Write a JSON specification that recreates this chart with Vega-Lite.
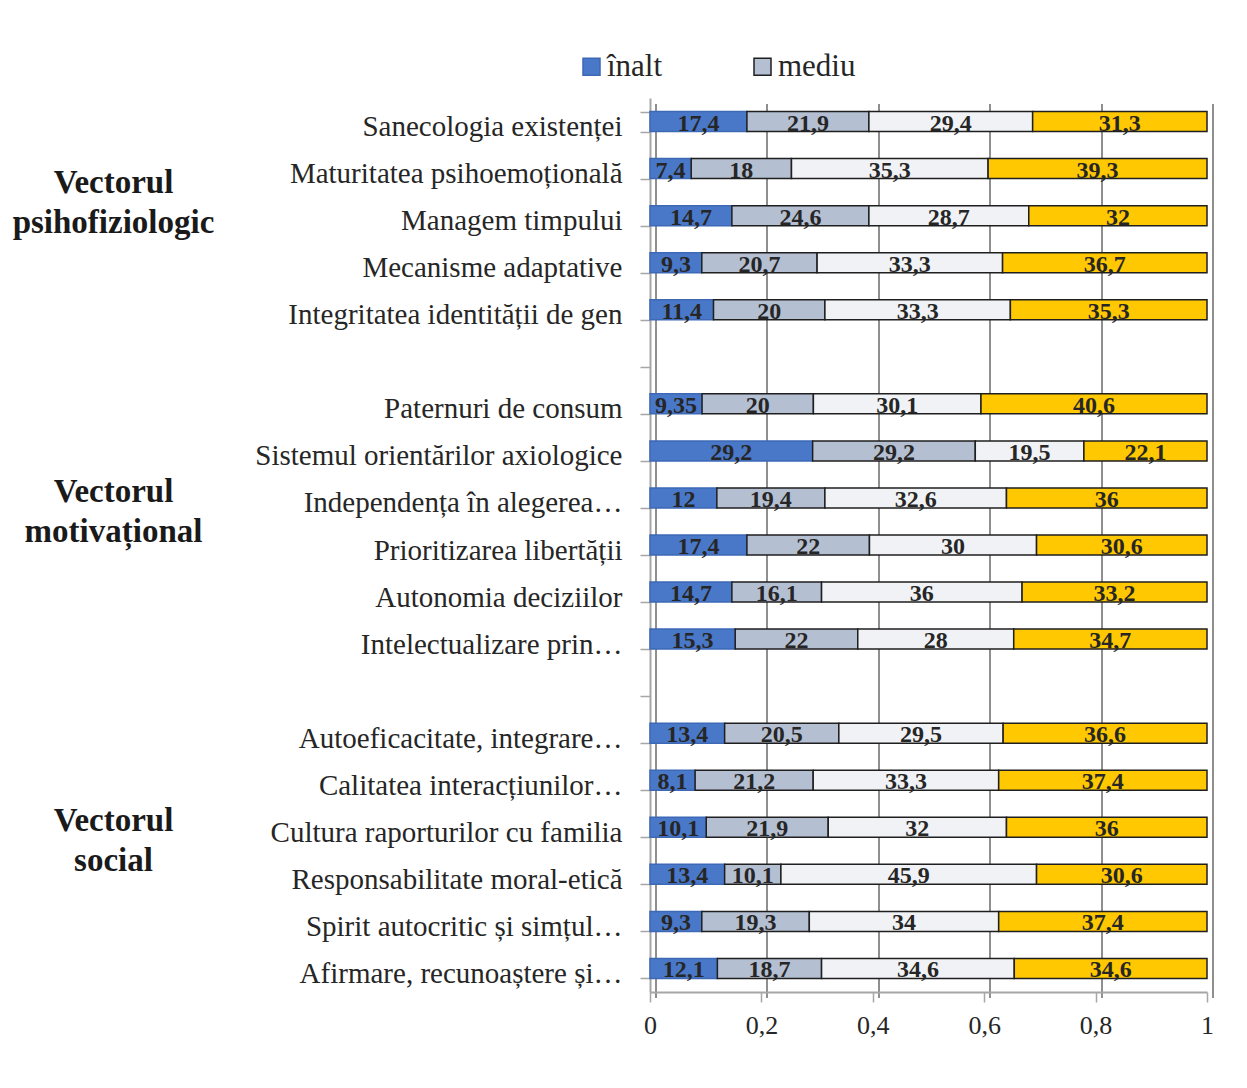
{
  "$schema": "https://vega.github.io/schema/vega-lite/v6.json",
  "width": 557,
  "height": 894,
  "autosize": {"type": "none"},
  "padding": {"left": 650, "top": 98, "right": 40, "bottom": 96},
  "background": "white",
  "config": {
    "locale": {"number": {"decimal": ",", "thousands": ".", "grouping": [3], "currency": ["", " lei"]}},
    "view": {"stroke": null},
    "font": "Liberation Serif"
  },
  "data": {
    "values": [
      {"cat": "Sanecologia existenței", "lvl": "înalt", "k": 1, "v": 17.4},
      {"cat": "Sanecologia existenței", "lvl": "mediu", "k": 2, "v": 21.9},
      {"cat": "Sanecologia existenței", "lvl": "scăzut", "k": 3, "v": 29.4},
      {"cat": "Sanecologia existenței", "lvl": "foarte scăzut", "k": 4, "v": 31.3},
      {"cat": "Maturitatea psihoemoțională", "lvl": "înalt", "k": 1, "v": 7.4},
      {"cat": "Maturitatea psihoemoțională", "lvl": "mediu", "k": 2, "v": 18},
      {"cat": "Maturitatea psihoemoțională", "lvl": "scăzut", "k": 3, "v": 35.3},
      {"cat": "Maturitatea psihoemoțională", "lvl": "foarte scăzut", "k": 4, "v": 39.3},
      {"cat": "Managem timpului", "lvl": "înalt", "k": 1, "v": 14.7},
      {"cat": "Managem timpului", "lvl": "mediu", "k": 2, "v": 24.6},
      {"cat": "Managem timpului", "lvl": "scăzut", "k": 3, "v": 28.7},
      {"cat": "Managem timpului", "lvl": "foarte scăzut", "k": 4, "v": 32},
      {"cat": "Mecanisme adaptative", "lvl": "înalt", "k": 1, "v": 9.3},
      {"cat": "Mecanisme adaptative", "lvl": "mediu", "k": 2, "v": 20.7},
      {"cat": "Mecanisme adaptative", "lvl": "scăzut", "k": 3, "v": 33.3},
      {"cat": "Mecanisme adaptative", "lvl": "foarte scăzut", "k": 4, "v": 36.7},
      {"cat": "Integritatea identității de gen", "lvl": "înalt", "k": 1, "v": 11.4},
      {"cat": "Integritatea identității de gen", "lvl": "mediu", "k": 2, "v": 20},
      {"cat": "Integritatea identității de gen", "lvl": "scăzut", "k": 3, "v": 33.3},
      {"cat": "Integritatea identității de gen", "lvl": "foarte scăzut", "k": 4, "v": 35.3},
      {"cat": "Paternuri de consum", "lvl": "înalt", "k": 1, "v": 9.35},
      {"cat": "Paternuri de consum", "lvl": "mediu", "k": 2, "v": 20},
      {"cat": "Paternuri de consum", "lvl": "scăzut", "k": 3, "v": 30.1},
      {"cat": "Paternuri de consum", "lvl": "foarte scăzut", "k": 4, "v": 40.6},
      {"cat": "Sistemul orientărilor axiologice", "lvl": "înalt", "k": 1, "v": 29.2},
      {"cat": "Sistemul orientărilor axiologice", "lvl": "mediu", "k": 2, "v": 29.2},
      {"cat": "Sistemul orientărilor axiologice", "lvl": "scăzut", "k": 3, "v": 19.5},
      {"cat": "Sistemul orientărilor axiologice", "lvl": "foarte scăzut", "k": 4, "v": 22.1},
      {"cat": "Independența în alegerea…", "lvl": "înalt", "k": 1, "v": 12},
      {"cat": "Independența în alegerea…", "lvl": "mediu", "k": 2, "v": 19.4},
      {"cat": "Independența în alegerea…", "lvl": "scăzut", "k": 3, "v": 32.6},
      {"cat": "Independența în alegerea…", "lvl": "foarte scăzut", "k": 4, "v": 36},
      {"cat": "Prioritizarea libertății", "lvl": "înalt", "k": 1, "v": 17.4},
      {"cat": "Prioritizarea libertății", "lvl": "mediu", "k": 2, "v": 22},
      {"cat": "Prioritizarea libertății", "lvl": "scăzut", "k": 3, "v": 30},
      {"cat": "Prioritizarea libertății", "lvl": "foarte scăzut", "k": 4, "v": 30.6},
      {"cat": "Autonomia deciziilor", "lvl": "înalt", "k": 1, "v": 14.7},
      {"cat": "Autonomia deciziilor", "lvl": "mediu", "k": 2, "v": 16.1},
      {"cat": "Autonomia deciziilor", "lvl": "scăzut", "k": 3, "v": 36},
      {"cat": "Autonomia deciziilor", "lvl": "foarte scăzut", "k": 4, "v": 33.2},
      {"cat": "Intelectualizare prin…", "lvl": "înalt", "k": 1, "v": 15.3},
      {"cat": "Intelectualizare prin…", "lvl": "mediu", "k": 2, "v": 22},
      {"cat": "Intelectualizare prin…", "lvl": "scăzut", "k": 3, "v": 28},
      {"cat": "Intelectualizare prin…", "lvl": "foarte scăzut", "k": 4, "v": 34.7},
      {"cat": "Autoeficacitate, integrare…", "lvl": "înalt", "k": 1, "v": 13.4},
      {"cat": "Autoeficacitate, integrare…", "lvl": "mediu", "k": 2, "v": 20.5},
      {"cat": "Autoeficacitate, integrare…", "lvl": "scăzut", "k": 3, "v": 29.5},
      {"cat": "Autoeficacitate, integrare…", "lvl": "foarte scăzut", "k": 4, "v": 36.6},
      {"cat": "Calitatea interacțiunilor…", "lvl": "înalt", "k": 1, "v": 8.1},
      {"cat": "Calitatea interacțiunilor…", "lvl": "mediu", "k": 2, "v": 21.2},
      {"cat": "Calitatea interacțiunilor…", "lvl": "scăzut", "k": 3, "v": 33.3},
      {"cat": "Calitatea interacțiunilor…", "lvl": "foarte scăzut", "k": 4, "v": 37.4},
      {"cat": "Cultura raporturilor cu familia", "lvl": "înalt", "k": 1, "v": 10.1},
      {"cat": "Cultura raporturilor cu familia", "lvl": "mediu", "k": 2, "v": 21.9},
      {"cat": "Cultura raporturilor cu familia", "lvl": "scăzut", "k": 3, "v": 32},
      {"cat": "Cultura raporturilor cu familia", "lvl": "foarte scăzut", "k": 4, "v": 36},
      {"cat": "Responsabilitate moral-etică", "lvl": "înalt", "k": 1, "v": 13.4},
      {"cat": "Responsabilitate moral-etică", "lvl": "mediu", "k": 2, "v": 10.1},
      {"cat": "Responsabilitate moral-etică", "lvl": "scăzut", "k": 3, "v": 45.9},
      {"cat": "Responsabilitate moral-etică", "lvl": "foarte scăzut", "k": 4, "v": 30.6},
      {"cat": "Spirit autocritic și simțul…", "lvl": "înalt", "k": 1, "v": 9.3},
      {"cat": "Spirit autocritic și simțul…", "lvl": "mediu", "k": 2, "v": 19.3},
      {"cat": "Spirit autocritic și simțul…", "lvl": "scăzut", "k": 3, "v": 34},
      {"cat": "Spirit autocritic și simțul…", "lvl": "foarte scăzut", "k": 4, "v": 37.4},
      {"cat": "Afirmare, recunoaștere și…", "lvl": "înalt", "k": 1, "v": 12.1},
      {"cat": "Afirmare, recunoaștere și…", "lvl": "mediu", "k": 2, "v": 18.7},
      {"cat": "Afirmare, recunoaștere și…", "lvl": "scăzut", "k": 3, "v": 34.6},
      {"cat": "Afirmare, recunoaștere și…", "lvl": "foarte scăzut", "k": 4, "v": 34.6}
    ]
  },
  "layer": [
    {
      "mark": {"type": "bar", "strokeWidth": 1.5},
      "encoding": {
        "y": {
          "field": "cat", "type": "nominal", "sort": null,
          "scale": {
            "domain": ["Sanecologia existenței", "Maturitatea psihoemoțională", "Managem timpului", "Mecanisme adaptative", "Integritatea identității de gen", " ", "Paternuri de consum", "Sistemul orientărilor axiologice", "Independența în alegerea…", "Prioritizarea libertății", "Autonomia deciziilor", "Intelectualizare prin…", "  ", "Autoeficacitate, integrare…", "Calitatea interacțiunilor…", "Cultura raporturilor cu familia", "Responsabilitate moral-etică", "Spirit autocritic și simțul…", "Afirmare, recunoaștere și…"],
            "paddingInner": 0.575, "paddingOuter": 0.2875
          },
          "axis": {
            "title": null, "orient": "left", "tickBand": "extent", "grid": false,
            "domainColor": "#a6a6a6", "domainWidth": 2,
            "tickColor": "#a6a6a6", "tickWidth": 1.5, "tickSize": 10,
            "labelPadding": 18, "labelFont": "Liberation Serif", "labelFontSize": 29,
            "labelColor": "#262626", "labelLimit": 600, "labelOffset": 5
          }
        },
        "x": {
          "field": "v", "type": "quantitative", "stack": "normalize",
          "scale": {"domain": [0, 1], "nice": false},
          "axis": {
            "title": null, "orient": "bottom", "grid": false,
            "values": [0, 0.2, 0.4, 0.6, 0.8, 1], "labelExpr": "format(datum.value, '~g')", "labelFlush": false,
            "labelFont": "Liberation Serif", "labelFontSize": 26, "labelColor": "#262626",
            "domainColor": "#a6a6a6", "domainWidth": 2,
            "tickColor": "#a6a6a6", "tickWidth": 1.5, "tickSize": 10, "labelPadding": 10
          }
        },
        "color": {
          "field": "lvl", "type": "nominal",
          "scale": {"domain": ["înalt", "mediu", "scăzut", "foarte scăzut"], "range": ["#4a78c8", "#b4bfd2", "#f0f2f5", "#ffc800"]},
          "legend": {
            "orient": "none", "legendX": -74, "legendY": -47, "direction": "horizontal",
            "title": null, "values": ["înalt", "mediu"], "symbolType": "square", "symbolSize": 289,
            "labelFont": "Liberation Serif", "labelFontSize": 31, "labelColor": "#262626",
            "columnPadding": 84, "labelOffset": 0, "padding": 0, "symbolStrokeWidth": 1.5
          }
        },
        "stroke": {
          "field": "lvl", "type": "nominal",
          "scale": {"domain": ["înalt", "mediu", "scăzut", "foarte scăzut"], "range": ["#3d68b5", "#1f1f1f", "#1f1f1f", "#1f1f1f"]},
          "legend": {
            "orient": "none", "legendX": -74, "legendY": -47, "direction": "horizontal",
            "title": null, "values": ["înalt", "mediu"], "symbolType": "square", "symbolSize": 289,
            "labelFont": "Liberation Serif", "labelFontSize": 31, "labelColor": "#262626",
            "columnPadding": 84, "labelOffset": 0, "padding": 0, "symbolStrokeWidth": 1.5
          }
        },
        "order": {"field": "k", "type": "quantitative"}
      }
    },
    {
      "mark": {"type": "text", "font": "Liberation Serif", "fontSize": 24, "fontWeight": "bold", "color": "#262626", "baseline": "alphabetic", "dy": 9},
      "encoding": {
        "y": {
          "field": "cat", "type": "nominal", "sort": null,
          "axis": {
            "title": null, "orient": "left", "offset": 537, "domain": false, "ticks": false, "tickSize": 0,
            "grid": false, "labelPadding": 0, "labelAlign": "center", "labelBaseline": "middle",
            "labelFont": "Liberation Serif", "labelFontSize": 33, "labelFontWeight": "bold",
            "labelColor": "#1a1a1a", "labelLineHeight": 40, "labelLimit": 600,
            "values": ["Managem timpului", "Independența în alegerea…", "Cultura raporturilor cu familia"],
            "labelExpr": "datum.value == 'Managem timpului' ? ['Vectorul', 'psihofiziologic'] : (datum.value == 'Cultura raporturilor cu familia' ? ['Vectorul', 'social'] : ['Vectorul', 'motivațional'])",
            "labelOffset": {"condition": {"test": "datum.value == 'Managem timpului'", "value": -33}, "value": -6}
          }
        },
        "x": {
          "field": "v", "type": "quantitative", "stack": "normalize", "bandPosition": 0.5,
          "axis": {
            "title": null, "orient": "bottom", "grid": true, "gridColor": "#8f8f8f", "gridWidth": 2,
            "labels": false, "ticks": false, "domain": false,
            "values": [0, 0.2, 0.4, 0.6, 0.8, 1], "translate": 6
          }
        },
        "detail": {"field": "lvl"},
        "order": {"field": "k", "type": "quantitative"},
        "text": {"field": "v", "type": "quantitative", "format": "~g"}
      }
    }
  ],
  "resolve": {"axis": {"x": "independent", "y": "independent"}}
}
